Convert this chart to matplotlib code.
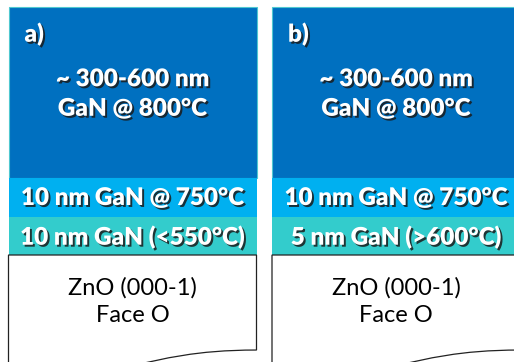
import matplotlib
matplotlib.use("Agg")
import matplotlib.pyplot as plt
import matplotlib.patheffects as pe
from matplotlib.patches import Rectangle, PathPatch
from matplotlib.path import Path

# Panel contents
panel_tags = ["a)", "b)"]
top_labels = ["~ 300-600 nm\nGaN @ 800°C", "~ 300-600 nm\nGaN @ 800°C"]
mid_labels = ["10 nm GaN @ 750°C", "10 nm GaN @ 750°C"]
buffer_labels = ["10 nm GaN (<550°C)", "5 nm GaN (>600°C)"]
substrate_labels = ["ZnO (000-1)\nFace O", "ZnO (000-1)\nFace O"]

# Layout in pixel coordinates
W, H = 514, 362
panel_left = [8.5, 272]
panel_w = 248
y_top, y_blue, y_mid, y_buf = 7, 178, 217, 255
doc_h = 118.5

C_DARK = "#0070C0"
C_MID = "#00B0F0"
C_BUF = "#33CCCC"

fig = plt.figure(figsize=(W / 100, H / 100), dpi=100)
ax = fig.add_axes([0, 0, 1, 1])
ax.set_xlim(0, W)
ax.set_ylim(H, 0)
ax.axis("off")

shadow = [pe.withSimplePatchShadow(offset=(1.4, -1.4), shadow_rgbFace="#1a1a1a", alpha=0.85)]
bold = dict(family=["Lato", "DejaVu Sans"], weight="heavy", color="white",
            ha="center", va="center", path_effects=shadow)

for i, x0 in enumerate(panel_left):
    cx = x0 + panel_w / 2
    ax.add_patch(Rectangle((x0, y_top), panel_w, y_blue - y_top, fc=C_DARK, ec="#4FC8D0", lw=0.8))
    ax.add_patch(Rectangle((x0, y_blue), panel_w, y_mid - y_blue, fc=C_MID, ec="none"))
    ax.add_patch(Rectangle((x0, y_mid), panel_w, y_buf - y_mid, fc=C_BUF, ec="none"))

    # substrate in "document" shape with wavy bottom
    xr = x0 + panel_w
    verts = [(x0, y_buf), (xr, y_buf), (xr, y_buf + 0.802 * doc_h),
             (x0 + panel_w / 2, y_buf + 0.802 * doc_h),
             (x0 + panel_w / 2, y_buf + 1.107 * doc_h),
             (x0, y_buf + 0.934 * doc_h), (x0, y_buf)]
    codes = [Path.MOVETO, Path.LINETO, Path.LINETO, Path.CURVE4, Path.CURVE4,
             Path.CURVE4, Path.CLOSEPOLY]
    ax.add_patch(PathPatch(Path(verts, codes), fc="white", ec="#222222", lw=0.9))

    ax.text(x0 + 16, 34, panel_tags[i], fontsize=17.5, **{**bold, "ha": "left"})
    ax.text(cx, 94, top_labels[i], fontsize=17.5, linespacing=1.42, **bold)
    ax.text(cx, 198, mid_labels[i], fontsize=17.5, **bold)
    ax.text(cx, 237, buffer_labels[i], fontsize=17.5, **bold)
    ax.text(cx, 302, substrate_labels[i], fontsize=17, linespacing=1.38,
            family=["Lato", "DejaVu Sans"], color="black", ha="center", va="center")

fig.savefig("out.png", dpi=100)
